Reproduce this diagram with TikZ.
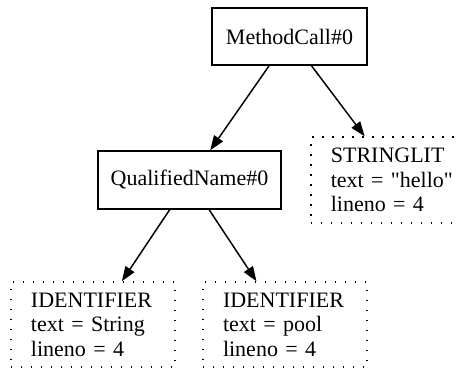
\documentclass[tikz,border=0pt]{standalone}
\usepackage{fontspec}
\setmainfont{Liberation Serif}[Ligatures=TeXOff]
\usetikzlibrary{arrows.meta}
\begin{document}
\begin{tikzpicture}[x=0.75pt,y=-0.75pt,
  every node/.style={font=\fontsize{16.5}{18.4}\selectfont},
  solidbox/.style={draw, line width=1.1pt, inner sep=0pt},
  dotbox/.style={draw, line width=1.1pt, dash pattern=on 1.1pt off 6.4pt, inner xsep=15pt, inner ysep=0pt, align=left},
  edge/.style={line width=1.1pt, -{Triangle[length=11pt,width=8pt]}}]
\useasboundingbox (0,0) rectangle (461,368);
\node[solidbox, minimum width=116.25pt, minimum height=42.75pt] (mc) at (289.5,36.5) {MethodCall\#0};
\node[solidbox, minimum width=137.25pt, minimum height=43.5pt] (qn) at (189.5,180) {QualifiedName\#0};
\node[dotbox, text width=100pt, minimum height=64.5pt] (sl) at (397.5,180) {STRINGLIT\\text = "hello"\\lineno = 4};
\node[dotbox, text width=93pt, minimum height=63.75pt] (id1) at (93,324.5) {IDENTIFIER\\text = String\\lineno = 4};
\node[dotbox, text width=93pt, minimum height=63.75pt] (id2) at (285,324.5) {IDENTIFIER\\text = pool\\lineno = 4};
\draw[edge] (mc) -- (qn);
\draw[edge] (mc) -- (sl);
\draw[edge] (qn) -- (id1);
\draw[edge] (qn) -- (id2);
\end{tikzpicture}
\end{document}
